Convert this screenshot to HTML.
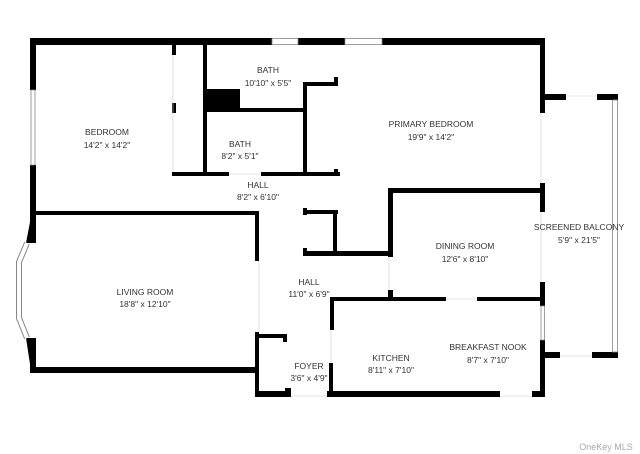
<!DOCTYPE html>
<html><head><meta charset="utf-8"><style>
html,body{margin:0;padding:0;background:#fff;}
svg{display:block;}
text{font-family:"Liberation Sans",sans-serif;font-size:8.5px;fill:#333;text-anchor:middle;}
</style></head><body>
<svg width="640" height="454" viewBox="0 0 640 454" xmlns="http://www.w3.org/2000/svg">
<rect width="640" height="454" fill="#fff"/>
<g fill="#000">
<!-- top wall -->
<rect x="30" y="38" width="242" height="7"/>
<rect x="298" y="38" width="47" height="7"/>
<rect x="382" y="38" width="163" height="7"/>
<!-- left wall -->
<rect x="30" y="38" width="6" height="52"/>
<rect x="30" y="165" width="6" height="57"/>
<polygon points="30,222 36,222 36,243 26,243"/>
<polygon points="26,338 36,338 36,364 30,364"/>
<rect x="30" y="362" width="6" height="11"/>
<!-- bedroom -->
<rect x="33" y="211" width="226" height="4"/>
<rect x="172" y="45" width="4" height="10"/>
<rect x="172" y="103" width="4" height="10"/>
<rect x="172" y="172" width="57" height="4"/>
<rect x="261" y="172" width="79" height="4"/>
<rect x="203" y="45" width="4" height="131"/>
<rect x="207" y="89" width="33" height="23"/>
<rect x="207" y="108" width="98" height="4"/>
<rect x="303" y="82" width="4" height="94"/>
<rect x="303" y="82" width="35" height="4"/>
<rect x="334" y="77" width="4" height="9"/>
<rect x="334" y="169" width="4" height="7"/>
<!-- primary right -->
<rect x="540" y="38" width="5" height="75"/>
<rect x="540" y="183" width="5" height="29"/>
<rect x="545" y="94" width="21" height="6"/>
<rect x="597" y="94" width="21" height="6"/>
<!-- dining -->
<rect x="388" y="188" width="157" height="5"/>
<rect x="388" y="188" width="5" height="69"/>
<rect x="388" y="290" width="5" height="9"/>
<!-- hall closet -->
<rect x="303" y="208" width="4" height="7"/>
<rect x="303" y="210" width="35" height="4"/>
<rect x="333" y="210" width="4" height="46"/>
<rect x="303" y="251" width="89" height="5"/>
<rect x="303" y="248" width="4" height="8"/>
<!-- living room -->
<rect x="30" y="367" width="229" height="6"/>
<rect x="255" y="212" width="4" height="49"/>
<rect x="255" y="332" width="4" height="65"/>
<!-- foyer -->
<rect x="255" y="334" width="32" height="4"/>
<rect x="283" y="334" width="4" height="8"/>
<rect x="255" y="391" width="36" height="6"/>
<rect x="285" y="388" width="6" height="9"/>
<!-- kitchen -->
<rect x="330" y="297" width="116" height="4"/>
<rect x="477" y="297" width="68" height="4"/>
<rect x="330" y="297" width="4" height="33"/>
<rect x="329" y="363" width="4" height="34"/>
<rect x="327" y="391" width="173" height="6"/>
<rect x="532" y="391" width="13" height="6"/>
<rect x="540" y="282" width="5" height="24"/>
<rect x="540" y="340" width="5" height="57"/>
<!-- balcony bottom -->
<rect x="545" y="352" width="15" height="6"/>
<rect x="592" y="352" width="26" height="6"/>
</g>
<!-- windows -->
<g fill="#fff" stroke="#888" stroke-width="0.8">
<rect x="272" y="38.5" width="26" height="6"/>
<rect x="345" y="38.5" width="37" height="6"/>
<rect x="31" y="90" width="4" height="75"/>
<rect x="541" y="306" width="3.5" height="34"/>
<rect x="612.5" y="100" width="5" height="252"/>
</g>
<polyline points="27,243 19,262 19,318 27,338" fill="none" stroke="#888" stroke-width="6"/>
<polyline points="27,243 19,262 19,318 27,338" fill="none" stroke="#fff" stroke-width="4"/>
<g stroke="#ccc" stroke-width="0.6" fill="none">
<line x1="173" y1="55" x2="173" y2="172"/>
<line x1="541" y1="113" x2="541" y2="183"/>
<line x1="541" y1="212" x2="541" y2="282"/>
<line x1="259" y1="261" x2="259" y2="332"/>
<line x1="331" y1="330" x2="331" y2="363"/>
<line x1="389" y1="257" x2="389" y2="290"/>
<line x1="500" y1="396" x2="532" y2="396"/>
<line x1="446" y1="299" x2="477" y2="299"/>
<line x1="560" y1="356" x2="592" y2="356"/>
<line x1="566" y1="96" x2="597" y2="96"/>
<line x1="229" y1="174" x2="261" y2="174"/>
<line x1="291" y1="396" x2="327" y2="396"/>
</g>
<text x="107" y="135">BEDROOM</text>
<text x="107" y="148">14'2" x 14'2"</text>
<text x="268" y="73">BATH</text>
<text x="268" y="86">10'10" x 5'5"</text>
<text x="240" y="147">BATH</text>
<text x="240" y="159">8'2" x 5'1"</text>
<text x="258" y="188">HALL</text>
<text x="258" y="200">8'2" x 6'10"</text>
<text x="431" y="127">PRIMARY BEDROOM</text>
<text x="431" y="140">19'9" x 14'2"</text>
<text x="465" y="249">DINING ROOM</text>
<text x="465" y="262">12'6" x 8'10"</text>
<text x="579" y="230">SCREENED BALCONY</text>
<text x="579" y="243">5'9" x 21'5"</text>
<text x="309" y="285">HALL</text>
<text x="309" y="297">11'0" x 6'9"</text>
<text x="145" y="295">LIVING ROOM</text>
<text x="145" y="307">18'8" x 12'10"</text>
<text x="309" y="369">FOYER</text>
<text x="309" y="381">3'6" x 4'9"</text>
<text x="391" y="361">KITCHEN</text>
<text x="391" y="373">8'11" x 7'10"</text>
<text x="488" y="350">BREAKFAST NOOK</text>
<text x="488" y="363">8'7" x 7'10"</text>
<text x="606" y="450" style="fill:#aaa;font-size:9px">OneKey MLS</text>
</svg>
</body></html>
